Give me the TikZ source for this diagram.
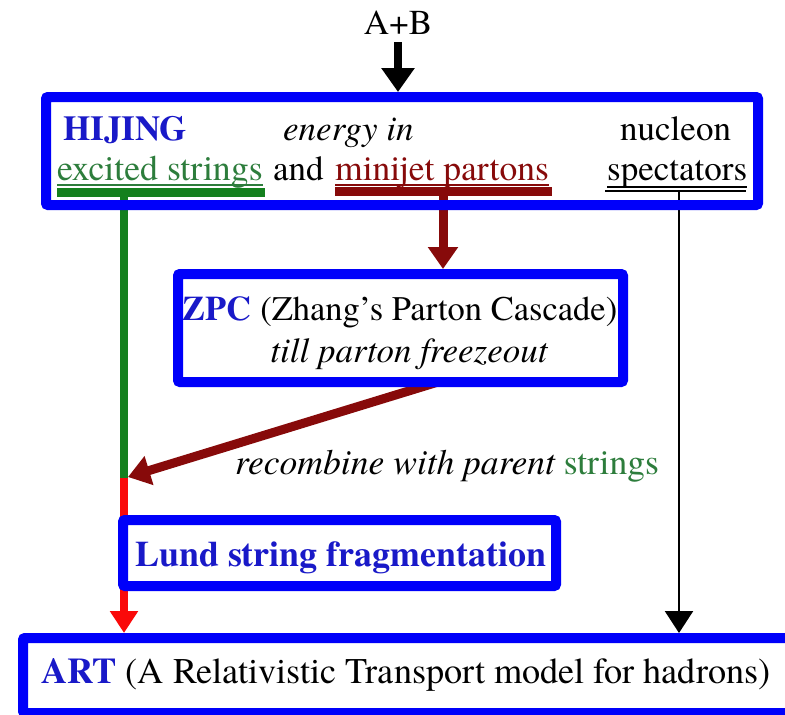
\documentclass[tikz,border=0pt]{standalone}
\usepackage{fontspec}
\setmainfont{TeX Gyre Termes}
\usetikzlibrary{arrows.meta,calc}
\pgfdeclarelayer{back}
\pgfdeclarelayer{conn}
\pgfsetlayers{back,conn,main}
\definecolor{boxblue}{RGB}{0,0,250}
\definecolor{txtblue}{RGB}{25,25,200}
\definecolor{sgreen}{RGB}{20,128,30}
\definecolor{tgreen}{RGB}{45,125,60}
\definecolor{dred}{RGB}{135,10,10}
\definecolor{bred}{RGB}{250,10,10}
\tikzset{
  bigfont/.style={font=\fontsize{35}{40}\selectfont},
  txt/.style={bigfont, inner sep=0pt, anchor=base west},
  ctxt/.style={bigfont, inner sep=0pt, anchor=base},
  frame/.style={draw=boxblue, line width=10pt, rounded corners=2pt, inner sep=0pt, outer sep=5pt},
  thickarr/.style={line width=9pt, -{Triangle[width=29pt,length=22pt]}},
  thinarr/.style={line width=2.5pt, -{Triangle[width=28pt,length=22pt]}},
  uline/.style={line width=1.3pt},
}
\begin{document}
\begin{tikzpicture}[x=1pt,y=-1pt]
\useasboundingbox (0,0) rectangle (785,715);
\clip (0,0) rectangle (785,715);
\begin{pgfonlayer}{back}
\fill[white] (0,0) rectangle (785,715);
\end{pgfonlayer}

% boxes
\node[frame, minimum width=712pt, minimum height=108pt] (hij) at (402,151) {};
\node[frame, minimum width=445pt, minimum height=108pt] (zpc) at (400.5,328) {};
\node[frame, minimum width=433pt, minimum height=66pt] (lund) at (339.5,553) {};
\node[frame, minimum width=790pt, minimum height=75pt] (art) at (418,675.5) {};

% texts
\node[ctxt] (ab) at (398,34) {A+B};
\node[txt, text=txtblue] (hijt) at (63,140) {\bfseries HIJING};
\node[txt] (energy) at (283,140) {\itshape energy in};
\node[txt] (nucleon) at (620,140) {nucleon};
\node[txt, text=tgreen, font=\fontsize{35.8}{40}\selectfont] (exc) at (57,180) {excited strings};
\node[txt] (and) at (273,180) {and};
\node[txt, text=dred, font=\fontsize{35.5}{40}\selectfont] (mini) at (335,180) {minijet partons};
\node[txt] (spec) at (607,180) {spectators};

\node[ctxt, font=\fontsize{34.5}{40}\selectfont] (zpct) at (400,320) {\textcolor{txtblue}{\bfseries ZPC} (Zhang\char"27 s Parton Cascade)};
\node[ctxt] (till) at (409,362) {\itshape till parton freezeout};
\node[txt, font=\fontsize{35.6}{40}\selectfont] (recomb) at (235,474) {\itshape recombine with parent \textcolor{tgreen}{\upshape strings}};
\node[ctxt, text=txtblue, font=\fontsize{35.9}{40}\selectfont] (lundt) at (341,566) {\bfseries Lund string fragmentation};
\node[txt, font=\fontsize{36.2}{40}\selectfont] (artt) at (41,683) {\textcolor{txtblue}{\bfseries ART} (A Relativistic Transport model for hadrons)};

% connector anchors
\coordinate (gb1) at (57,192.5);
\coordinate (gb2) at (265,192.5);
\coordinate (rb1) at (335,191.5);
\coordinate (rb2) at (552,191.5);
\coordinate (kb1) at (605,191);
\coordinate (kb2) at (746,191);
\coordinate (gs) at (124,192);
\coordinate (join) at (124,478);
\coordinate (ms) at (443,192);
\coordinate (ks) at (679,191);
\coordinate (ds) at (438,382);
\coordinate (dt) at (128,477);

\begin{pgfonlayer}{conn}
% underlines
\draw[uline, tgreen] (exc.base west) ++(0,5) coordinate (u1a) -- (exc.base east |- u1a);
\draw[uline, dred] (mini.base west) ++(0,5) coordinate (u2a) -- (mini.base east |- u2a);
\draw[uline] (spec.base west) ++(0,7) coordinate (u3a) -- (spec.base east |- u3a);
% bars
\draw[sgreen, line width=9pt] (gb1) -- (gb2);
\draw[dred, line width=9pt] (rb1) -- (rb2);
\draw[black, line width=2.5pt] (kb1) -- (kb2);
% connectors
\draw[line width=8pt, -{Triangle[width=32pt,length=24pt]}] (ab.south) ++(0,8) coordinate (abs) -- (abs |- hij.north);
\draw[sgreen, line width=8pt] (gs) -- (join);
\draw[bred, line width=8pt, -{Triangle[width=27pt,length=22pt]}] (join) -- (join |- art.north);
\draw[dred, thickarr] (ms) -- (ms |- zpc.north);
\draw[black, thinarr] (ks) -- (ks |- art.north);
\draw[dred, thickarr] (ds) -- (dt);
\end{pgfonlayer}
\end{tikzpicture}
\end{document}
